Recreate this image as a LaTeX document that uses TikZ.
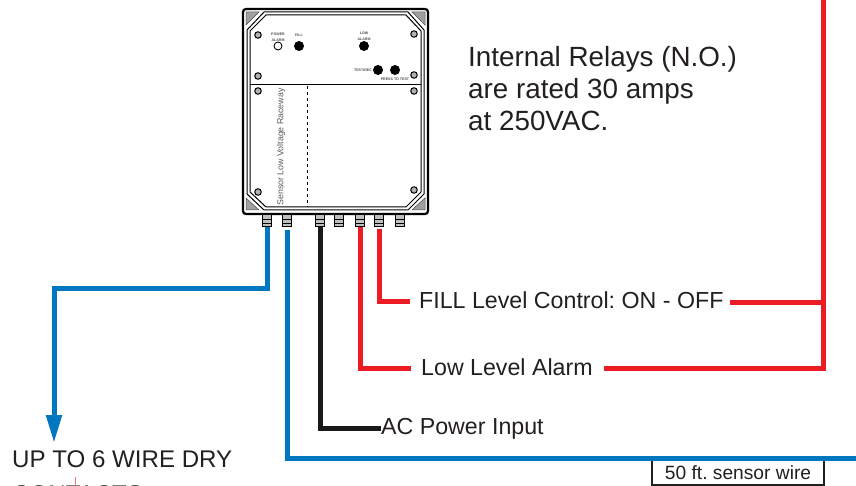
\documentclass[tikz,border=0pt]{standalone}
\usepackage{fontspec}
\setmainfont{Liberation Sans}
\usetikzlibrary{arrows.meta}
\definecolor{wireblue}{RGB}{0,119,190}
\definecolor{wirered}{RGB}{237,28,36}
\definecolor{inktext}{RGB}{35,31,32}
\frenchspacing
\tikzset{
    label/.style={inner sep=0pt, anchor=base west, text=inktext, font=\fontsize{23.2}{23.2}\selectfont},
    bigtext/.style={label, font=\fontsize{27.8}{27.8}\selectfont},
    drytext/.style={label, font=\fontsize{24.1}{24.1}\selectfont},
    tiny/.style={inner sep=0pt, text=black!70, font=\fontsize{3.6}{5.5}\selectfont\bfseries, align=center},
    screw/.style={draw=black, fill=gray!60, line width=1pt, circle, inner sep=0pt, minimum size=6.5pt},
    lamp/.style={fill=black, circle, inner sep=0pt, minimum size=10pt},
    gland/.style={draw=black, fill=gray!50, line width=1pt, inner sep=0pt, minimum width=9pt, minimum height=12pt},
    cornerwedge/.style={fill=gray!75, draw=black!70, line width=0.5pt},
    bluewire/.style={wireblue, line width=5pt},
    redwire/.style={wirered, line width=5pt},
    blackwire/.style={black!90, line width=5pt}
}
\begin{document}
\begin{tikzpicture}[x=1pt, y=-1pt]
    \useasboundingbox (0, 0) rectangle (856, 486);
    \clip (0, 0) rectangle (856, 486);

    % enclosure
    \draw[line width=2.2pt, rounded corners=3pt] (243, 9) rectangle (428, 214);
    \draw[line width=1pt] (264, 12) -- (408, 12) -- (424, 30) -- (424, 194) -- (408, 210) -- (264, 210) -- (247, 194) -- (247, 30) -- cycle;
    \draw[line width=1pt] (266, 15) -- (406, 15) -- (421, 31) -- (421, 192) -- (406, 207) -- (266, 207) -- (250, 192) -- (250, 31) -- cycle;
    \fill[cornerwedge] (246, 12) -- (259, 12) -- (246, 25) -- cycle;
    \fill[cornerwedge] (425, 12) -- (412, 12) -- (425, 25) -- cycle;
    \fill[cornerwedge] (246, 210) -- (259, 210) -- (246, 198) -- cycle;
    \fill[cornerwedge] (425, 210) -- (412, 210) -- (425, 198) -- cycle;
    \draw[line width=1pt] (250, 85) -- (421, 85);
    \draw[dashed, line width=1pt] (307, 86) -- (307, 207);
    \foreach \name/\px/\py in {sa/258/35, sb/414/34, sc/258/76, sd/414/75, se/258/91, sf/414/91, sg/258/192, sh/414/190}
        \node[screw] (\name) at (\px, \py) {};

    % panel
    \node[draw=black, line width=0.9pt, circle, inner sep=0pt, minimum size=8pt] (power) at (278, 46) {};
    \node[lamp] (fill) at (299, 46) {};
    \node[lamp] (low) at (364, 46) {};
    \node[lamp] (testa) at (378, 70) {};
    \node[lamp] (testb) at (395, 70) {};
    \node[tiny] (powerlabel) at (278, 37) {POWER\\ALARM};
    \node[tiny] (filllabel) at (299, 35) {FILL};
    \node[tiny] (lowlabel) at (364, 36) {LOW\\ALARM};
    \node[tiny] (testlabel) at (363, 70) {TEST/REC};
    \node[tiny] (presslabel) at (395, 79.5) {PRESS TO TEST};
    \node[inner sep=0pt, rotate=90, text=black!65, font=\fontsize{8.8}{8.8}\selectfont] (raceway) at (281, 147) {Sensor Low Voltage Raceway};

    \node[bigtext] (relaya) at (468, 66.5) {Internal Relays (N.O.)};
    \node[bigtext] (relayb) at (468, 99) {are rated 30 amps};
    \node[bigtext] (relayc) at (468, 131) {at 250VAC.};

    \coordinate (blueaend) at (267, 224);
    \coordinate (bluebend) at (287, 230);
    \coordinate (blackend) at (320, 224);
    \coordinate (redaend) at (360, 222);
    \coordinate (redbend) at (379, 229);
    \coordinate (blueout) at (856, 458);
    \coordinate (redout) at (823, 0);
    \coordinate (redtick) at (825, 286);
    \coordinate (blackcorner) at (320, 428);

    % wires
    \node[label] (fillctl) at (419, 308) {FILL Level Control: ON - OFF};
    \node[label] (lowalarm) at (421, 375) {Low Level Alarm};
    \node[label] (acpower) at (381, 434) {AC Power Input};
    \node[drytext] (dryline) at (12, 467) {UP TO 6 WIRE DRY};
    \node[drytext] (dryrest) at (12, 502) {CONTACTS};
    \node[draw=inktext, line width=1.3pt, inner sep=0pt, minimum width=172pt, minimum height=25pt, text=inktext, font=\fontsize{19.2}{19.2}\selectfont] (sensorbox) at (738, 472.5) {50 ft. sensor wire};

    \coordinate (tipa) at (54, 443);
    \draw[bluewire, -{Triangle[length=28pt, width=15pt]}] (blueaend) -- (267, 288) -- (54, 288) -- (tipa);
    \draw[bluewire] (bluebend) -- (287, 458) -- (blueout);
    \draw[blackwire] (blackend) -- (blackcorner) -- (acpower.west |- blackcorner);
    \draw[redwire] (redaend) -- (360, 368) -- (411, 368);
    \draw[redwire] (redbend) -- (379, 301) -- (410, 301);
    \draw[redwire] (730, 302) -- (823, 302);
    \draw[redwire] (604, 368) -- (823, 368) -- (redout);
    \draw[wirered, line width=1pt] (redtick) -- (825.5, 302);
    \draw[wirered!60, line width=0.8pt] (75, 477) -- (75, 486);

    % cable glands
    \foreach \name/\px in {ga/267, gb/287, gc/320, gd/339, ge/360, gf/379, gg/400} {
        \node[gland] (\name) at (\px, 221) {};
        \draw[line width=0.7pt] (\px-4.5, 219) -- (\px+4.5, 219) (\px-4.5, 223) -- (\px+4.5, 223);
    }
\end{tikzpicture}
\end{document}
